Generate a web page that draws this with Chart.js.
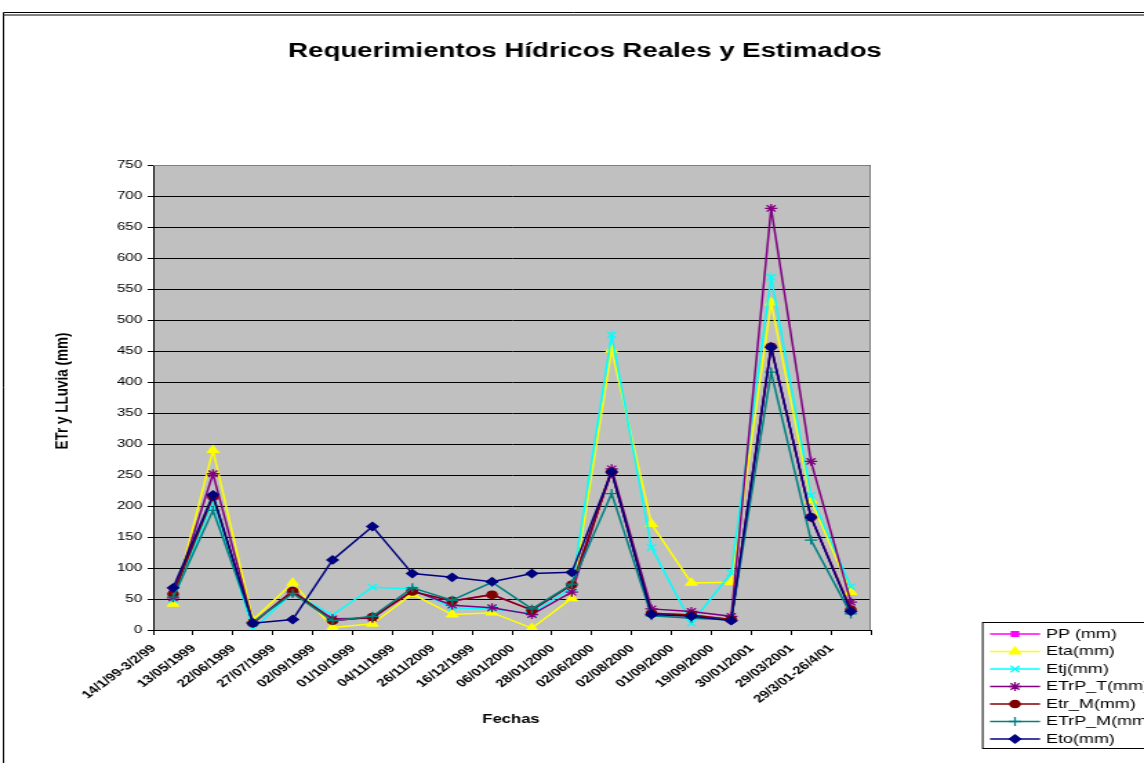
<!DOCTYPE html>
<html>
<head>
<meta charset="utf-8">
<title>Requerimientos Hídricos Reales y Estimados</title>
<script src="https://cdn.jsdelivr.net/npm/chart.js@4.4.1/dist/chart.umd.min.js"></script>
<style>
  html, body { margin: 0; padding: 0; background: #ffffff; overflow: hidden; }
  canvas { display: block; }
  /* the sheet is drawn narrow and widened on screen, like the stretched spreadsheet export */
  #hoja { width: 829px; height: 763px; transform-origin: 0 0; }
</style>
</head>
<body>
<div id="hoja"><canvas id="grafico" width="829" height="763"></canvas></div>
<script>
// Fechas de medición
const fechas = [
  '14/1/99-3/2/99', '13/05/1999', '22/06/1999', '27/07/1999', '02/09/1999',
  '01/10/1999', '04/11/1999', '26/11/2009', '16/12/1999', '06/01/2000',
  '28/01/2000', '02/06/2000', '02/08/2000', '01/09/2000', '19/09/2000',
  '30/01/2001', '29/03/2001', '29/3/01-26/4/01'
];

// Series (mm)
const ppMm     = [64, 215, 11, 63, 15, 21, 62, 47, 57, 32, 73, 255, 27, 24, 17, 457, 182, 33];
const etaMm    = [42, 290, 16, 76, 4, 10, 58, 25, 28, 3, 51, 452, 171, 76, 77, 528, 209, 61];
const etjMm    = [49, 209, 1, 60, 24, 69, 66, 36, 34, 27, 68, 476, 133, 11, 92, 569, 217, 70];
const etrpTMm  = [52, 252, 12, 61, 18, 19, 64, 40, 36, 25, 61, 260, 34, 30, 22, 680, 272, 45];
const etrMMm   = [58, 215, 11, 63, 15, 21, 62, 47, 57, 32, 73, 255, 27, 24, 17, 457, 182, 33];
const etrpMMm  = [53, 193, 13, 59, 15, 22, 68, 48, 77, 34, 74, 220, 23, 19, 16, 416, 145, 26];
const etoMm    = [68, 218, 11, 17, 113, 167, 91, 85, 78, 91, 93, 255, 25, 22, 15, 456, 182, 30];

// Eje Y
const yMin = 0;
const yMax = 750;
const yPaso = 50;

const FONT = 'Arial, "Liberation Sans", sans-serif';

// horizontal widening between the canvas and the screen
const ANCHO_PANTALLA = 1144;
const ANCHO_LIENZO = 829;
const S = ANCHO_PANTALLA / ANCHO_LIENZO;
const px = (x) => x / S;
document.getElementById('hoja').style.transform = 'scale(' + S + ', 1)';

function serie(label, data, color, pointStyle, radius) {
  return {
    label, data,
    borderColor: color,
    backgroundColor: color,
    pointBorderColor: color,
    pointBackgroundColor: color,
    pointStyle,
    pointRadius: radius,
    pointHoverRadius: radius,
    pointBorderWidth: 1.3,
    borderWidth: 1.5,
    tension: 0,
    fill: false
  };
}

const datasets = [
  serie('PP (mm)', ppMm, '#ff00ff', 'rect', 3.5),
  serie('Eta(mm)', etaMm, '#ffff00', 'triangle', 4.5),
  serie('Etj(mm)', etjMm, '#00ffff', 'crossRot', 4.5),
  serie('ETrP_T(mm)', etrpTMm, '#800080', 'star', 4.5),
  serie('Etr_M(mm)', etrMMm, '#800000', 'circle', 3.6),
  serie('ETrP_M(mm)', etrpMMm, '#008080', 'cross', 4.5),
  serie('Eto(mm)', etoMm, '#000080', 'rectRot', 4)
];
// later series sit on top of earlier ones
datasets.forEach((d, i) => { d.order = datasets.length - 1 - i; });

function marca(ctx, ds, x, y) {
  const opts = {
    pointStyle: ds.pointStyle, radius: ds.pointRadius, rotation: 0,
    borderWidth: ds.pointBorderWidth
  };
  ctx.fillStyle = ds.pointBackgroundColor;
  ctx.strokeStyle = ds.pointBorderColor;
  ctx.lineWidth = ds.pointBorderWidth;
  Chart.helpers.drawPoint(ctx, opts, x, y);
}

const decoracion = {
  id: 'decoracion',
  beforeDraw(chart) {
    const ctx = chart.ctx;
    const a = chart.chartArea;
    ctx.save();
    ctx.fillStyle = '#ffffff';
    ctx.fillRect(0, 0, chart.width, chart.height);
    // marco exterior
    ctx.strokeStyle = '#000000';
    ctx.lineWidth = 1;
    ctx.beginPath();
    ctx.moveTo(px(3.5), chart.height);
    ctx.lineTo(px(3.5), 12.5);
    ctx.lineTo(chart.width, 12.5);
    ctx.stroke();
    ctx.strokeStyle = '#808080';
    ctx.lineWidth = 2;
    ctx.beginPath();
    ctx.moveTo(px(4), 15);
    ctx.lineTo(chart.width, 15);
    ctx.stroke();
    // fondo del área de trazado
    ctx.fillStyle = '#c0c0c0';
    ctx.fillRect(a.left, a.top, a.right - a.left, a.bottom - a.top);
    ctx.restore();
  },
  beforeDatasetsDraw(chart) {
    const ctx = chart.ctx;
    const a = chart.chartArea;
    ctx.save();
    ctx.strokeStyle = '#808080';
    ctx.lineWidth = 1;
    ctx.beginPath();
    ctx.moveTo(a.left, a.top + 0.5);
    ctx.lineTo(a.right - 0.5, a.top + 0.5);
    ctx.lineTo(a.right - 0.5, a.bottom);
    ctx.stroke();
    ctx.restore();
  },
  afterDraw(chart) {
    const ctx = chart.ctx;
    ctx.save();
    ctx.fillStyle = '#000000';
    // título
    ctx.font = 'bold 20px ' + FONT;
    ctx.textAlign = 'center';
    ctx.textBaseline = 'middle';
    ctx.fillText('Requerimientos Hídricos Reales y Estimados', px(585), 51);
    // título eje X
    ctx.font = 'bold 12px ' + FONT;
    ctx.fillText('Fechas', px(511), 720);
    // título eje Y
    ctx.save();
    ctx.translate(px(62), 391);
    ctx.rotate(-Math.PI / 2);
    ctx.font = 'bold 13.5px ' + FONT;
    ctx.fillText('ETr y LLuvia (mm)', 0, 0);
    ctx.restore();

    // leyenda
    const lx = px(982), ly = 622, lw = chart.width, lh = 126;
    ctx.strokeStyle = '#000000';
    ctx.lineWidth = 1;
    ctx.strokeRect(lx + 0.5, ly + 0.5, lw, lh);
    ctx.font = '13px ' + FONT;
    ctx.textAlign = 'left';
    ctx.textBaseline = 'middle';
    chart.data.datasets.forEach((ds, i) => {
      const y = ly + 12 + i * 17.5;
      ctx.strokeStyle = ds.borderColor;
      ctx.lineWidth = 1.4;
      ctx.beginPath();
      ctx.moveTo(px(990), y);
      ctx.lineTo(px(1040), y);
      ctx.stroke();
      marca(ctx, ds, px(1015), y);
      ctx.fillStyle = '#000000';
      ctx.fillText(ds.label, px(1046), y);
    });
    ctx.restore();
  }
};

new Chart(document.getElementById('grafico'), {
  type: 'line',
  data: { labels: fechas, datasets },
  options: {
    responsive: false,
    animation: false,
    events: [],
    layout: { padding: { left: 0, top: 165, right: ANCHO_LIENZO - Math.round(px(871)), bottom: 0 } },
    plugins: {
      legend: { display: false },
      title: { display: false },
      tooltip: { enabled: false }
    },
    scales: {
      x: {
        type: 'category',
        offset: true,
        grid: {
          offset: true,
          drawOnChartArea: false,
          drawTicks: true,
          tickLength: 5,
          color: '#000000'
        },
        border: { color: '#000000', width: 1 },
        ticks: {
          autoSkip: false,
          maxRotation: 45,
          minRotation: 45,
          padding: 7,
          labelOffset: -14,
          color: '#000000',
          font: { family: FONT, size: 11, weight: 'bold' }
        },
        afterFit(scale) { scale.height = 133; }
      },
      y: {
        min: yMin,
        max: yMax,
        ticks: {
          stepSize: yPaso,
          padding: 4,
          color: '#000000',
          font: { family: FONT, size: 11 }
        },
        grid: {
          color: '#000000',
          lineWidth: 1,
          drawTicks: true,
          tickLength: 4
        },
        border: { color: '#000000', width: 1 },
        afterFit(scale) { scale.width = Math.round(px(153)); }
      }
    }
  },
  plugins: [decoracion]
});
</script>
</body>
</html>
